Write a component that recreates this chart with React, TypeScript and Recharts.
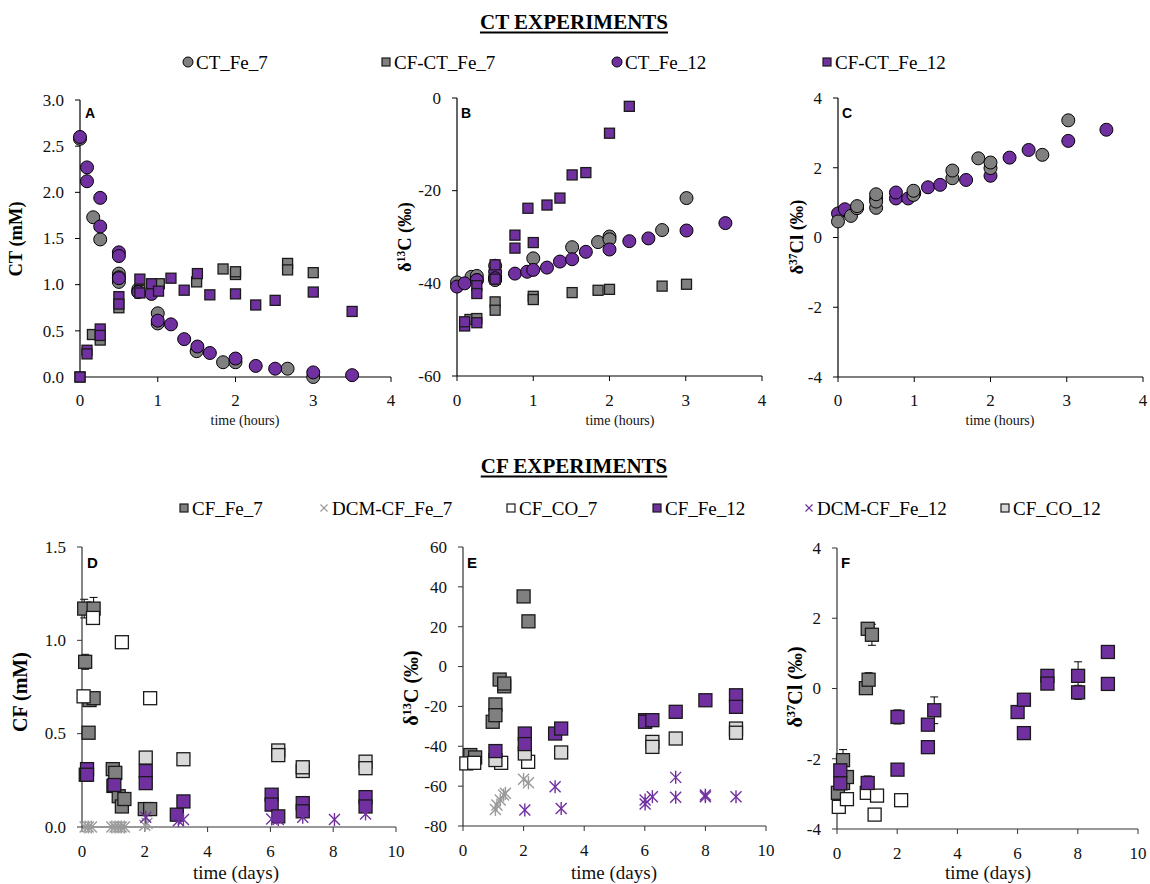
import React from 'react';
import { ScatterChart, Scatter, XAxis, YAxis, ErrorBar } from 'recharts';

type Pt = [number, number, number?];

// ---------- tick values ----------
const hoursTicks = [0, 1, 2, 3, 4];
const daysTicks = [0, 2, 4, 6, 8, 10];
const ctTicks = [0, 0.5, 1, 1.5, 2, 2.5, 3];
const d13cHoursTicks = [-60, -40, -20, 0];
const d37ClTicks = [-4, -2, 0, 2, 4];
const cfTicks = [0, 0.5, 1, 1.5];
const d13cDaysTicks = [-80, -60, -40, -20, 0, 20, 40, 60];

// ---------- Panel A: CT (mM) vs time (hours) ----------
const A_CT_Fe_7: Pt[] = [[0, 2.58], [0.17, 1.73], [0.26, 1.49], [0.5, 1.12], [0.5, 1.08], [0.5, 1.03], [0.75, 0.95], [0.75, 0.92], [1.0, 0.69], [1.0, 0.58], [1.5, 0.28], [1.84, 0.16], [2.0, 0.16], [2.67, 0.09], [3.0, 0.0]];
const A_CFCT_Fe_7: Pt[] = [[0, 0], [0.16, 0.46], [0.26, 0.4], [0.5, 0.75], [0.77, 0.94], [1.02, 1.01], [1.5, 1.03], [1.84, 1.17], [2.0, 1.11], [2.0, 1.14], [2.67, 1.23], [2.67, 1.16], [3.0, 1.13]];
const A_CT_Fe_12: Pt[] = [[0, 2.6], [0.09, 2.27], [0.09, 2.12], [0.26, 1.94], [0.26, 1.63], [0.5, 1.35], [0.5, 1.31], [0.5, 1.07], [0.75, 0.92], [0.92, 0.9], [1.0, 0.61], [1.17, 0.57], [1.34, 0.41], [1.51, 0.33], [1.67, 0.26], [2.0, 0.2], [2.26, 0.12], [2.51, 0.09], [3.0, 0.05], [3.5, 0.02]];
const A_CFCT_Fe_12: Pt[] = [[0, 0], [0.09, 0.29], [0.09, 0.25], [0.26, 0.52], [0.26, 0.45], [0.5, 0.87], [0.5, 0.79], [0.77, 1.06], [0.77, 0.91], [0.92, 1.01], [1.01, 0.93], [1.17, 1.07], [1.34, 0.94], [1.51, 1.12], [1.67, 0.89], [2.0, 0.9], [2.26, 0.78], [2.51, 0.83], [3.0, 0.92], [3.5, 0.71]];

// ---------- Panel B: d13C vs time (hours) ----------
const B_CT_Fe_7: Pt[] = [[0, -39.8], [0.19, -38.6], [0.26, -38.4], [0.26, -39.3], [0.5, -36.2], [0.5, -38.6], [0.5, -39.3], [1.0, -34.6], [1.51, -32.2], [1.85, -31.1], [2.0, -29.9], [2.0, -30.5], [2.69, -28.5], [3.01, -21.6]];
const B_CFCT_Fe_7: Pt[] = [[0.17, -47.8], [0.26, -47.6], [0.5, -44.0], [0.5, -45.8], [1.0, -42.8], [1.0, -43.5], [1.51, -42.0], [1.85, -41.5], [2.0, -41.3], [2.69, -40.6], [3.01, -40.2]];
const B_CT_Fe_12: Pt[] = [[0, -40.7], [0.1, -40.0], [0.26, -39.3], [0.5, -37.5], [0.5, -38.9], [0.76, -37.9], [0.92, -37.5], [1.0, -37.1], [1.18, -36.6], [1.35, -35.3], [1.51, -34.8], [1.69, -33.2], [2.0, -32.7], [2.26, -30.9], [2.51, -30.3], [3.01, -28.6], [3.52, -27.0]];
const B_CFCT_Fe_12: Pt[] = [[0.1, -49.2], [0.1, -48.3], [0.26, -40.5], [0.26, -42.2], [0.26, -48.5], [0.5, -36.0], [0.5, -39.1], [0.76, -29.6], [0.76, -32.4], [0.93, -23.8], [1.0, -31.2], [1.18, -23.1], [1.35, -21.6], [1.51, -16.6], [1.69, -16.1], [2.0, -7.6], [2.26, -1.8]];

// ---------- Panel C: d37Cl vs time (hours) ----------
const C_CT_Fe_7: Pt[] = [[0, 0.46], [0.17, 0.62], [0.25, 0.84], [0.25, 0.9], [0.5, 0.85], [0.5, 1.03], [0.5, 1.24], [0.99, 1.22], [0.99, 1.34], [1.5, 1.7], [1.5, 1.92], [1.84, 2.27], [2.0, 1.99], [2.0, 2.15], [2.68, 2.37], [3.02, 3.36]];
const C_CT_Fe_12: Pt[] = [[0, 0.69], [0.09, 0.81], [0.25, 0.87], [0.5, 1.12], [0.76, 1.12], [0.76, 1.29], [0.92, 1.12], [1.0, 1.27], [1.18, 1.44], [1.34, 1.51], [1.68, 1.65], [2.0, 1.77], [2.25, 2.29], [2.5, 2.51], [3.02, 2.77], [3.52, 3.09]];

// ---------- Panel D: CF (mM) vs time (days) ----------
const D_CF_Fe_7: Pt[] = [[0.07, 1.17, 0.05], [0.37, 1.17, 0.06], [0.1, 0.885, 0.04], [0.24, 0.68], [0.37, 0.69], [0.21, 0.505], [0.12, 0.28], [0.98, 0.31], [1.06, 0.29], [1.0, 0.22], [1.17, 0.165], [1.27, 0.11], [1.35, 0.15], [2.0, 0.096], [2.17, 0.096]];
const D_DCM_Fe_7: Pt[] = [[0.1, 0], [0.2, 0], [0.3, 0], [0.95, 0], [1.05, 0], [1.15, 0], [1.25, 0], [1.35, 0], [2.0, 0.01], [2.07, 0.02]];
const D_CF_CO_7: Pt[] = [[0.05, 0.7], [0.35, 1.12], [1.27, 0.99], [2.17, 0.69]];
const D_CF_Fe_12: Pt[] = [[0.16, 0.31], [0.16, 0.28], [1.03, 0.225], [2.03, 0.3], [2.03, 0.235], [3.02, 0.066], [3.23, 0.137], [6.04, 0.173], [6.04, 0.12], [6.25, 0.057], [7.03, 0.128], [7.03, 0.084], [9.03, 0.16], [9.03, 0.11]];
const D_DCM_Fe_12: Pt[] = [[2.03, 0.052], [3.07, 0.034], [3.23, 0.04], [6.04, 0.043], [6.25, 0.04], [7.03, 0.052], [8.04, 0.04], [9.03, 0.07]];
const D_CF_CO_12: Pt[] = [[2.03, 0.372], [3.23, 0.363, 0.03], [6.25, 0.41], [6.25, 0.385, 0.03], [7.03, 0.3], [7.03, 0.32], [9.03, 0.35], [9.03, 0.315]];

// ---------- Panel E: d13C vs time (days) ----------
const E_CF_Fe_7: Pt[] = [[0.24, -44.4], [0.4, -45.6], [0.98, -27.7], [1.07, -19.0], [1.07, -24.4], [1.21, -6.5], [1.36, -9.9], [1.36, -8.5], [2.0, 35.2], [2.16, 22.7]];
const E_DCM_Fe_7: Pt[] = [[1.07, -71.7], [1.12, -69.5], [1.23, -67.0], [1.34, -64.5], [1.4, -63.6], [2.0, -56.6], [2.16, -58.3]];
const E_CF_CO_7: Pt[] = [[0.11, -48.6], [0.37, -48.3], [1.26, -48.3], [2.15, -47.8]];
const E_CF_Fe_12: Pt[] = [[1.07, -42.4], [2.04, -33.6], [2.04, -38.9], [3.04, -33.6], [3.24, -31.1], [6.01, -26.9], [6.01, -27.7], [6.25, -26.9], [7.02, -22.7], [8.0, -16.9], [9.01, -14.4], [9.01, -20.2]];
const E_DCM_Fe_12: Pt[] = [[2.04, -72.0], [3.04, -60.3], [3.24, -71.2], [6.01, -67.0], [6.01, -69.0], [6.25, -65.3], [7.02, -55.6], [7.02, -65.6], [8.0, -64.5], [8.0, -65.3], [9.01, -65.3]];
const E_CF_CO_12: Pt[] = [[1.07, -46.9], [2.04, -43.6], [3.24, -43.1], [6.25, -37.8], [6.25, -40.3], [7.02, -36.1], [9.01, -31.1], [9.01, -33.2]];

// ---------- Panel F: d37Cl vs time (days) ----------
const F_CF_Fe_7: Pt[] = [[0.03, -2.97], [0.2, -2.04, 0.3], [0.2, -2.69], [0.33, -2.52], [0.96, 0.01], [1.05, 0.25, 0.2], [1.02, 1.7, 0.15], [1.16, 1.53, 0.3]];
const F_CF_CO_7: Pt[] = [[0.06, -3.37], [0.33, -3.15], [0.99, -2.97], [1.25, -3.59], [1.33, -3.05], [2.13, -3.18]];
const F_CF_Fe_12: Pt[] = [[0.11, -2.33], [0.11, -2.7], [1.02, -2.69, 0.2], [2.01, -0.81, 0.2], [2.01, -2.31], [3.02, -1.03], [3.02, -1.67], [3.23, -0.62, 0.38], [6.0, -0.67], [6.21, -0.32], [6.21, -1.27], [6.99, 0.36, 0.1], [6.99, 0.14], [8.01, 0.36, 0.4], [8.01, -0.11, 0.2], [9.0, 1.04], [9.0, 0.13]];

// ---------- colours ----------
const GREY = '#808080';
const PURPLE = '#7030A0';
const WHITE = '#FFFFFF';
const LIGHT = '#D9D9D9';
const STARGREY = '#9A9A9A';

const SERIF = '"Liberation Serif", "Times New Roman", serif';
const SANS = '"Liberation Sans", Arial, sans-serif';

type Kind = 'circle' | 'square' | 'star';
interface Series { name: string; data: Pt[]; kind: Kind; fill: string; size: number; }

const makeShape = (kind: Kind, fill: string, size: number) => (p: any) => {
  const cx = p.cx, cy = p.cy;
  if (cx == null || cy == null) return <g />;
  if (kind === 'circle') {
    return <circle cx={cx} cy={cy} r={size} fill={fill} stroke="#000" strokeWidth={1} />;
  }
  if (kind === 'square') {
    const s = size;
    return <rect x={cx - s / 2} y={cy - s / 2} width={s} height={s} fill={fill} stroke="#1a1a1a" strokeWidth={1.3} />;
  }
  const h = size / 2;
  return (
    <g stroke={fill} strokeWidth={1.4}>
      <line x1={cx - h} y1={cy - h} x2={cx + h} y2={cy + h} />
      <line x1={cx - h} y1={cy + h} x2={cx + h} y2={cy - h} />
      <line x1={cx} y1={cy - h - 1} x2={cx} y2={cy + h + 1} />
    </g>
  );
};

const toRows = (d: Pt[]) => d.map(([x, y, e]) => ({ x, y, e: e ?? 0 }));

const TICK_FONT = 17;
const makeXTick = (fmt?: (v: number) => string) => (p: any) => {
  const v = p.payload?.value;
  return (
    <text x={p.x} y={p.y} dy={11.5} textAnchor="middle" fill="#111" style={{ fontFamily: SERIF, fontSize: TICK_FONT }}>
      {fmt ? fmt(v) : String(v)}
    </text>
  );
};
const makeYTick = (fmt?: (v: number) => string) => (p: any) => {
  const v = p.payload?.value;
  return (
    <text x={p.x} y={p.y} dy={5.8} textAnchor="end" fill="#111" style={{ fontFamily: SERIF, fontSize: TICK_FONT }}>
      {fmt ? fmt(v) : String(v)}
    </text>
  );
};

interface PanelProps {
  plot: [number, number, number, number];
  xDomain: [number, number];
  xTicks: number[];
  yDomain: [number, number];
  yTicks: number[];
  yFmt?: (v: number) => string;
  series: Series[];
  axisColor: string;
  xTickMargin: number;
}

function Panel({ plot, xDomain, xTicks, yDomain, yTicks, yFmt, series, axisColor, xTickMargin }: PanelProps) {
  const [px, py, pw, ph] = plot;
  const ml = 80, mt = 20, mb = 50, mr = 14;
  return (
    <div style={{ position: 'absolute', left: px - ml, top: py - mt }}>
      <ScatterChart width={pw + ml + mr} height={ph + mt + mb} margin={{ top: mt, right: mr, bottom: 0, left: 0 }}>
        <XAxis
          type="number"
          dataKey="x"
          domain={xDomain}
          ticks={xTicks}
          interval={0}
          height={mb}
          tickSize={5}
          tickMargin={xTickMargin}
          axisLine={{ stroke: axisColor, strokeWidth: 1.2 }}
          tickLine={{ stroke: axisColor }}
          tick={makeXTick()}
        />
        <YAxis
          type="number"
          dataKey="y"
          domain={yDomain}
          ticks={yTicks}
          interval={0}
          width={ml}
          tickSize={5}
          tickMargin={11}
          axisLine={{ stroke: axisColor, strokeWidth: 1.2 }}
          tickLine={{ stroke: axisColor }}
          tick={makeYTick(yFmt)}
        />
        {series.map((s) => {
          const hasErr = s.data.some((d) => (d[2] ?? 0) > 0);
          return (
            <Scatter key={s.name} name={s.name} data={toRows(s.data)} shape={makeShape(s.kind, s.fill, s.size)} isAnimationActive={false}>
              {hasErr ? <ErrorBar dataKey="e" direction="y" width={4} stroke="#000" strokeWidth={1} /> : null}
            </Scatter>
          );
        })}
      </ScatterChart>
    </div>
  );
}

const fmt1 = (v: number) => v.toFixed(1);

function YLabel({ cx, cy, size, children }: { cx: number; cy: number; size: number; children: React.ReactNode }) {
  return (
    <div style={{ position: 'absolute', left: cx, top: cy, transform: 'translate(-50%, -50%) rotate(-90deg)', whiteSpace: 'nowrap', fontFamily: SERIF, fontWeight: 'bold', fontSize: size, lineHeight: 1, color: '#000' }}>
      {children}
    </div>
  );
}

function XLabel({ cx, cy, size, text }: { cx: number; cy: number; size: number; text: string }) {
  return (
    <div style={{ position: 'absolute', left: cx, top: cy, transform: 'translate(-50%, -50%)', whiteSpace: 'nowrap', fontFamily: SERIF, fontSize: size, lineHeight: 1, color: '#111' }}>
      {text}
    </div>
  );
}

function Letter({ x, y, size, text }: { x: number; y: number; size: number; text: string }) {
  return (
    <div style={{ position: 'absolute', left: x, top: y, fontFamily: SANS, fontWeight: 'bold', fontSize: size, lineHeight: 1, color: '#000' }}>{text}</div>
  );
}

const sup = (t: string) => <span style={{ fontSize: '0.62em', verticalAlign: '0.55em' }}>{t}</span>;

function Title({ cy, text }: { cy: number; text: string }) {
  return (
    <div style={{ position: 'absolute', left: 574, top: cy, transform: 'translate(-50%, -50%)', whiteSpace: 'nowrap', fontFamily: SERIF, fontWeight: 'bold', fontSize: 21, lineHeight: 1, textDecoration: 'underline', textDecorationThickness: 2, textUnderlineOffset: 3, color: '#000' }}>
      {text}
    </div>
  );
}

function LegendMarker({ kind, fill, size }: { kind: Kind; fill: string; size: number }) {
  const c = 6;
  let el: React.ReactNode;
  if (kind === 'circle') el = <circle cx={c} cy={c} r={size / 2} fill={fill} stroke="#000" strokeWidth={1} />;
  else if (kind === 'square') el = <rect x={c - size / 2} y={c - size / 2} width={size} height={size} fill={fill} stroke="#1a1a1a" strokeWidth={1.2} />;
  else {
    const h = size / 2;
    el = (
      <g stroke={fill} strokeWidth={1.2}>
        <line x1={c - h} y1={c - h} x2={c + h} y2={c + h} />
        <line x1={c - h} y1={c + h} x2={c + h} y2={c - h} />
      </g>
    );
  }
  return <svg width={12} height={12} style={{ display: 'block' }}>{el}</svg>;
}

function LegendItem({ x, y, name, kind, fill, size }: { x: number; y: number; name: string; kind: Kind; fill: string; size: number }) {
  return (
    <div style={{ position: 'absolute', left: x - 6, top: y - 11, height: 22, display: 'flex', alignItems: 'center', whiteSpace: 'nowrap' }}>
      <LegendMarker kind={kind} fill={fill} size={size} />
      <span style={{ fontFamily: SERIF, fontSize: 19, lineHeight: 1, color: '#000', marginLeft: 2 }}>{name}</span>
    </div>
  );
}

const topLegend = [
  { name: 'CT_Fe_7', kind: 'circle' as Kind, fill: GREY, size: 10, x: 188 },
  { name: 'CF-CT_Fe_7', kind: 'square' as Kind, fill: GREY, size: 8, x: 386 },
  { name: 'CT_Fe_12', kind: 'circle' as Kind, fill: PURPLE, size: 10, x: 617 },
  { name: 'CF-CT_Fe_12', kind: 'square' as Kind, fill: PURPLE, size: 8, x: 827 },
];
const bottomLegend = [
  { name: 'CF_Fe_7', kind: 'square' as Kind, fill: GREY, size: 8, x: 184 },
  { name: 'DCM-CF_Fe_7', kind: 'star' as Kind, fill: STARGREY, size: 7, x: 324 },
  { name: 'CF_CO_7', kind: 'square' as Kind, fill: WHITE, size: 8, x: 511 },
  { name: 'CF_Fe_12', kind: 'square' as Kind, fill: PURPLE, size: 8, x: 657 },
  { name: 'DCM-CF_Fe_12', kind: 'star' as Kind, fill: PURPLE, size: 7, x: 809 },
  { name: 'CF_CO_12', kind: 'square' as Kind, fill: LIGHT, size: 8, x: 1005 },
];

const TC = 6.5; // top circle radius
const TS = 10; // top square size
const BS = 13; // bottom square size
const ST = 11; // star size

export default function App() {
  return (
    <div style={{ position: 'absolute', left: 0, top: 0, width: 1150, height: 884, background: '#fff', overflow: 'hidden' }}>
      <Title cy={22} text="CT EXPERIMENTS" />
      {topLegend.map((l) => <LegendItem key={l.name} x={l.x} y={62} name={l.name} kind={l.kind} fill={l.fill} size={l.size} />)}

      <Panel
        plot={[80, 100, 311, 277]}
        xDomain={[0, 4]} xTicks={hoursTicks} yDomain={[0, 3]} yTicks={ctTicks} yFmt={fmt1}
        axisColor="#000" xTickMargin={12}
        series={[
          { name: 'CT_Fe_7', data: A_CT_Fe_7, kind: 'circle', fill: GREY, size: TC },
          { name: 'CF-CT_Fe_7', data: A_CFCT_Fe_7, kind: 'square', fill: GREY, size: TS },
          { name: 'CT_Fe_12', data: A_CT_Fe_12, kind: 'circle', fill: PURPLE, size: TC },
          { name: 'CF-CT_Fe_12', data: A_CFCT_Fe_12, kind: 'square', fill: PURPLE, size: TS },
        ]}
      />
      <Panel
        plot={[457, 98, 305, 278]}
        xDomain={[0, 4]} xTicks={hoursTicks} yDomain={[-60, 0]} yTicks={d13cHoursTicks}
        axisColor="#000" xTickMargin={13}
        series={[
          { name: 'CT_Fe_7', data: B_CT_Fe_7, kind: 'circle', fill: GREY, size: TC },
          { name: 'CF-CT_Fe_7', data: B_CFCT_Fe_7, kind: 'square', fill: GREY, size: TS },
          { name: 'CT_Fe_12', data: B_CT_Fe_12, kind: 'circle', fill: PURPLE, size: TC },
          { name: 'CF-CT_Fe_12', data: B_CFCT_Fe_12, kind: 'square', fill: PURPLE, size: TS },
        ]}
      />
      <Panel
        plot={[838, 98, 305, 279]}
        xDomain={[0, 4]} xTicks={hoursTicks} yDomain={[-4, 4]} yTicks={d37ClTicks}
        axisColor="#000" xTickMargin={12}
        series={[
          { name: 'CT_Fe_12', data: C_CT_Fe_12, kind: 'circle', fill: PURPLE, size: TC },
          { name: 'CT_Fe_7', data: C_CT_Fe_7, kind: 'circle', fill: GREY, size: TC },
        ]}
      />

      <Title cy={466} text="CF EXPERIMENTS" />
      {bottomLegend.map((l) => <LegendItem key={l.name} x={l.x} y={508} name={l.name} kind={l.kind} fill={l.fill} size={l.size} />)}

      <Panel
        plot={[82, 547, 314, 280]}
        xDomain={[0, 10]} xTicks={daysTicks} yDomain={[0, 1.5]} yTicks={cfTicks} yFmt={fmt1}
        axisColor="#333" xTickMargin={13}
        series={[
          { name: 'CF_Fe_7', data: D_CF_Fe_7, kind: 'square', fill: GREY, size: BS },
          { name: 'DCM-CF_Fe_7', data: D_DCM_Fe_7, kind: 'star', fill: STARGREY, size: ST },
          { name: 'CF_CO_7', data: D_CF_CO_7, kind: 'square', fill: WHITE, size: BS },
          { name: 'CF_Fe_12', data: D_CF_Fe_12, kind: 'square', fill: PURPLE, size: BS },
          { name: 'DCM-CF_Fe_12', data: D_DCM_Fe_12, kind: 'star', fill: PURPLE, size: ST },
          { name: 'CF_CO_12', data: D_CF_CO_12, kind: 'square', fill: LIGHT, size: BS },
        ]}
      />
      <Panel
        plot={[463, 547, 303, 279]}
        xDomain={[0, 10]} xTicks={daysTicks} yDomain={[-80, 60]} yTicks={d13cDaysTicks}
        axisColor="#333" xTickMargin={13}
        series={[
          { name: 'CF_Fe_7', data: E_CF_Fe_7, kind: 'square', fill: GREY, size: BS },
          { name: 'DCM-CF_Fe_7', data: E_DCM_Fe_7, kind: 'star', fill: STARGREY, size: ST },
          { name: 'CF_CO_7', data: E_CF_CO_7, kind: 'square', fill: WHITE, size: BS },
          { name: 'CF_CO_12', data: E_CF_CO_12, kind: 'square', fill: LIGHT, size: BS },
          { name: 'CF_Fe_12', data: E_CF_Fe_12, kind: 'square', fill: PURPLE, size: BS },
          { name: 'DCM-CF_Fe_12', data: E_DCM_Fe_12, kind: 'star', fill: PURPLE, size: ST },
        ]}
      />
      <Panel
        plot={[837, 548, 301, 281]}
        xDomain={[0, 10]} xTicks={daysTicks} yDomain={[-4, 4]} yTicks={d37ClTicks}
        axisColor="#333" xTickMargin={13}
        series={[
          { name: 'CF_Fe_7', data: F_CF_Fe_7, kind: 'square', fill: GREY, size: BS },
          { name: 'CF_CO_7', data: F_CF_CO_7, kind: 'square', fill: WHITE, size: BS },
          { name: 'CF_Fe_12', data: F_CF_Fe_12, kind: 'square', fill: PURPLE, size: BS },
        ]}
      />

      <YLabel cx={16} cy={239} size={18.5}>CT (mM)</YLabel>
      <YLabel cx={405} cy={237} size={18.5}><>δ{sup('13')}C (‰)</></YLabel>
      <YLabel cx={797} cy={237} size={18.5}><>δ{sup('37')}Cl (‰)</></YLabel>
      <YLabel cx={20} cy={692} size={20}>CF (mM)</YLabel>
      <YLabel cx={411} cy={688} size={20}><>δ{sup('13')}C (‰)</></YLabel>
      <YLabel cx={795} cy={687} size={20}><>δ{sup('37')}Cl (‰)</></YLabel>

      <XLabel cx={245} cy={421} size={14} text="time (hours)" />
      <XLabel cx={620} cy={421} size={14} text="time (hours)" />
      <XLabel cx={1000} cy={421} size={14} text="time (hours)" />
      <XLabel cx={236} cy={872} size={19} text="time (days)" />
      <XLabel cx={614} cy={872} size={19} text="time (days)" />
      <XLabel cx={988} cy={872} size={19} text="time (days)" />

      <Letter x={85} y={106} size={14} text="A" />
      <Letter x={461} y={106} size={14} text="B" />
      <Letter x={842} y={106} size={14} text="C" />
      <Letter x={87} y={555} size={15} text="D" />
      <Letter x={467} y={555} size={15} text="E" />
      <Letter x={841} y={555} size={15} text="F" />
    </div>
  );
}
